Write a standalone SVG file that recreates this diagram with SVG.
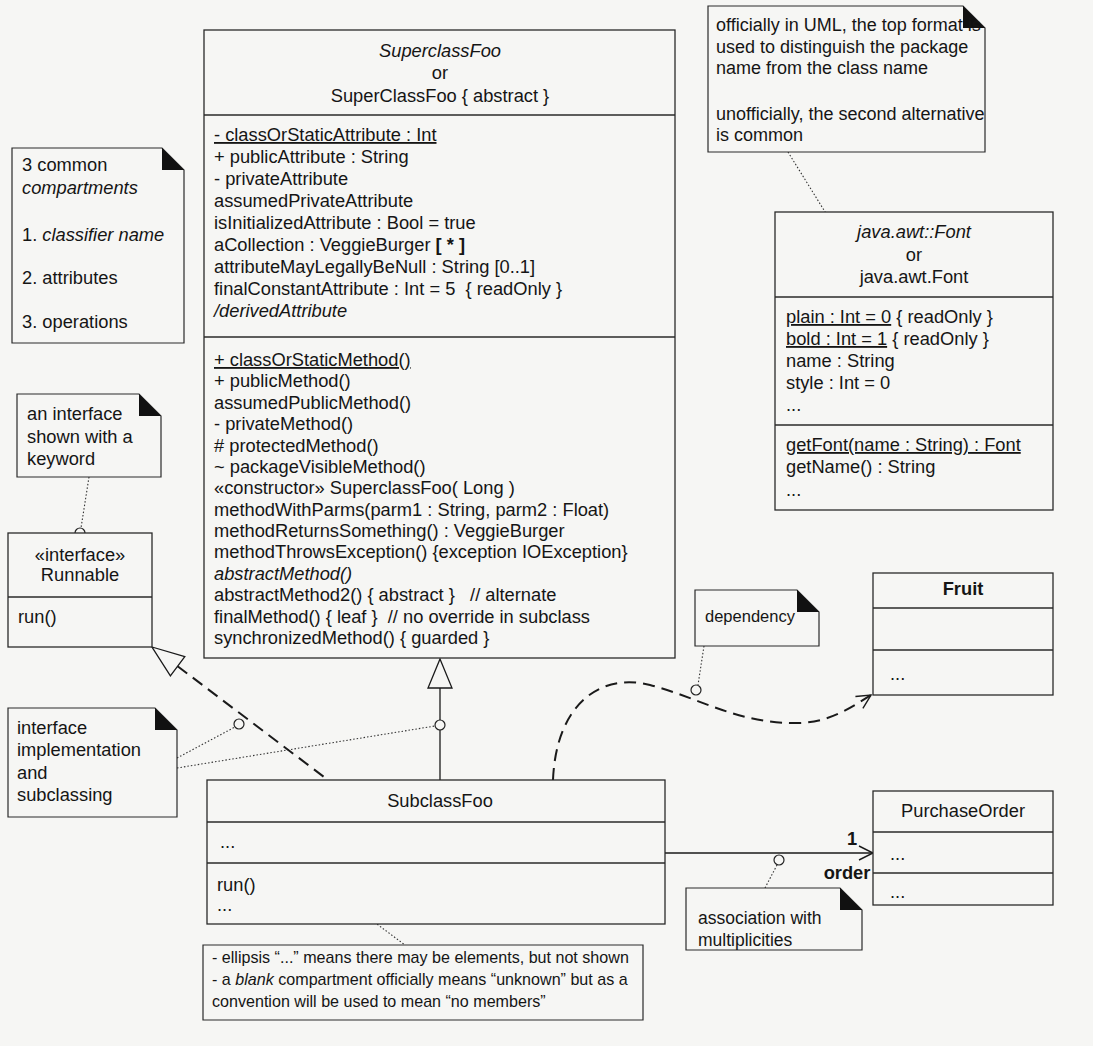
<svg xmlns="http://www.w3.org/2000/svg" width="1093" height="1046" viewBox="0 0 1093 1046">
<defs>
<style>
text{font-family:"Liberation Sans",Arial,sans-serif;font-size:18.3px;fill:#151515}
.c{text-anchor:middle}
.i{font-style:italic}
.b{font-weight:bold}
.u{text-decoration:underline}
.sm{font-size:16.1px}
.pre{white-space:pre}
.box{fill:#f6f6f4;stroke:#2a2a2a;stroke-width:1.3}
.div{stroke:#2a2a2a;stroke-width:1.3}
.note{fill:#f6f6f4;stroke:#2a2a2a;stroke-width:1.2}
.ear{fill:#111}
.dot{fill:none;stroke:#333;stroke-width:1.1;stroke-dasharray:1.5 2}
.dash{fill:none;stroke:#1a1a1a;stroke-width:2;stroke-dasharray:12 7}
.solid{fill:none;stroke:#1a1a1a;stroke-width:1.3}
.hole{fill:#f6f6f4;stroke:#222;stroke-width:1.2}
.tri{fill:#f6f6f4;stroke:#1a1a1a;stroke-width:1.3}
</style>
<marker id="open" markerWidth="18" markerHeight="18" refX="16" refY="9" orient="auto" markerUnits="userSpaceOnUse">
<path d="M2,2 L16,9 L2,16" fill="none" stroke="#1a1a1a" stroke-width="1.4"/>
</marker>
</defs>
<rect width="1093" height="1046" fill="#f6f6f4"/>

<g id="connectors">
<line class="dot" x1="788" y1="152" x2="835" y2="228"/>
<line class="dot" x1="89" y1="477" x2="81" y2="528"/>
<line class="dot" x1="177" y1="758" x2="235" y2="727"/>
<line class="dot" x1="177" y1="768" x2="435" y2="726"/>
<line class="dot" x1="704" y1="646" x2="698" y2="685"/>
<line class="dot" x1="765" y1="888" x2="777" y2="865"/>
<line class="dot" x1="279" y1="851" x2="405" y2="945"/>
<line class="dash" x1="177.6" y1="666.2" x2="328" y2="780"/>
<polygon class="tri" points="152,647 184.8,656.6 170.4,675.8"/>
<line class="solid" x1="440" y1="688" x2="440" y2="780"/>
<polygon class="tri" points="440,659 452,688 428,688"/>
<path class="dash" d="M553,780 C556,705 600,672 650,685 C700,698 740,725 800,723 C830,722 852,707 871,695" marker-end="url(#open)"/>
<line class="solid" x1="665" y1="853" x2="873" y2="853" marker-end="url(#open)"/>
<circle class="hole" cx="838" cy="232" r="5"/>
<circle class="hole" cx="80" cy="533" r="5"/>
<circle class="hole" cx="239" cy="724" r="5"/>
<circle class="hole" cx="440" cy="725" r="5"/>
<circle class="hole" cx="696" cy="690" r="5"/>
<circle class="hole" cx="779" cy="860" r="5"/>
<circle class="hole" cx="275" cy="847" r="5"/>
<text x="852" y="845" class="c b">1</text>
<text x="847" y="879" class="c b">order</text>
</g>

<g id="superclassFoo">
<rect class="box" x="204" y="30" width="471" height="628"/>
<line class="div" x1="204" y1="115" x2="675" y2="115"/>
<line class="div" x1="204" y1="337" x2="675" y2="337"/>
<text x="440" y="57" class="c i">SuperclassFoo</text>
<text x="440" y="79" class="c">or</text>
<text x="440" y="102" class="c">SuperClassFoo { abstract }</text>
<text x="214" y="141" class="u">- classOrStaticAttribute : Int</text>
<text x="214" y="163">+ publicAttribute : String</text>
<text x="214" y="185">- privateAttribute</text>
<text x="214" y="207">assumedPrivateAttribute</text>
<text x="214" y="229">isInitializedAttribute : Bool = true</text>
<text x="214" y="251">aCollection : VeggieBurger <tspan class="b">[ * ]</tspan></text>
<text x="214" y="273">attributeMayLegallyBeNull : String [0..1]</text>
<text x="214" y="295" class="pre">finalConstantAttribute : Int = 5  { readOnly }</text>
<text x="214" y="317" class="i">/derivedAttribute</text>
<text x="214" y="366" class="u">+ classOrStaticMethod()</text>
<text x="214" y="387.4">+ publicMethod()</text>
<text x="214" y="408.8">assumedPublicMethod()</text>
<text x="214" y="430.1">- privateMethod()</text>
<text x="214" y="451.5"># protectedMethod()</text>
<text x="214" y="472.9">~ packageVisibleMethod()</text>
<text x="214" y="494.3">«constructor» SuperclassFoo( Long )</text>
<text x="214" y="515.7">methodWithParms(parm1 : String, parm2 : Float)</text>
<text x="214" y="537">methodReturnsSomething() : VeggieBurger</text>
<text x="214" y="558.4">methodThrowsException() {exception IOException}</text>
<text x="214" y="579.8" class="i">abstractMethod()</text>
<text x="214" y="601.2" class="pre">abstractMethod2() { abstract }   // alternate</text>
<text x="214" y="622.6" class="pre">finalMethod() { leaf }  // no override in subclass</text>
<text x="214" y="644">synchronizedMethod() { guarded }</text>
</g>

<g id="runnable">
<rect class="box" x="8" y="533" width="144" height="114"/>
<line class="div" x1="8" y1="597" x2="152" y2="597"/>
<text x="80" y="561" class="c">«interface»</text>
<text x="80" y="581" class="c">Runnable</text>
<text x="18" y="623">run()</text>
</g>

<g id="font">
<rect class="box" x="775" y="212" width="278" height="298"/>
<line class="div" x1="775" y1="297" x2="1053" y2="297"/>
<line class="div" x1="775" y1="425" x2="1053" y2="425"/>
<text x="914" y="238" class="c i">java.awt::Font</text>
<text x="914" y="261" class="c">or</text>
<text x="914" y="283" class="c">java.awt.Font</text>
<text x="786" y="323"><tspan class="u">plain : Int = 0</tspan> { readOnly }</text>
<text x="786" y="345"><tspan class="u">bold : Int = 1</tspan> { readOnly }</text>
<text x="786" y="367">name : String</text>
<text x="786" y="389">style : Int = 0</text>
<text x="786" y="411">...</text>
<text x="786" y="451" class="u">getFont(name : String) : Font</text>
<text x="786" y="473">getName() : String</text>
<text x="786" y="496">...</text>
</g>

<g id="fruit">
<rect class="box" x="873" y="573" width="180" height="122"/>
<line class="div" x1="873" y1="608" x2="1053" y2="608"/>
<line class="div" x1="873" y1="650" x2="1053" y2="650"/>
<text x="963" y="595" class="c b">Fruit</text>
<text x="890" y="680">...</text>
</g>

<g id="subclassFoo">
<rect class="box" x="207" y="780" width="458" height="144"/>
<line class="div" x1="207" y1="822" x2="665" y2="822"/>
<line class="div" x1="207" y1="863" x2="665" y2="863"/>
<text x="440" y="807" class="c">SubclassFoo</text>
<text x="220" y="848">...</text>
<text x="217" y="891">run()</text>
<text x="217" y="911">...</text>
</g>

<g id="purchaseOrder">
<rect class="box" x="873" y="791" width="180" height="114"/>
<line class="div" x1="873" y1="832" x2="1053" y2="832"/>
<line class="div" x1="873" y1="873" x2="1053" y2="873"/>
<text x="963" y="817" class="c">PurchaseOrder</text>
<text x="890" y="860">...</text>
<text x="890" y="898">...</text>
</g>

<g id="note-package">
<path class="note" d="M708,6 H963 L985,28 V152 H708 Z"/>
<path class="ear" d="M963,6 L985,28 H963 Z"/>
<text x="716" y="31" style="font-size:18px">officially in UML, the top format is</text>
<text x="716" y="53" style="font-size:18px">used to distinguish the package</text>
<text x="716" y="74" style="font-size:18px">name from the class name</text>
<text x="716" y="120" style="font-size:18px">unofficially, the second alternative</text>
<text x="716" y="141" style="font-size:18px">is common</text>
</g>

<g id="note-compartments">
<path class="note" d="M12,148 H162 L184,170 V343 H12 Z"/>
<path class="ear" d="M162,148 L184,170 H162 Z"/>
<text x="22" y="171">3 common</text>
<text x="22" y="194" class="i">compartments</text>
<text x="22" y="241">1. <tspan class="i">classifier name</tspan></text>
<text x="22" y="284">2. attributes</text>
<text x="22" y="328">3. operations</text>
</g>

<g id="note-interface">
<path class="note" d="M17,394 H139 L161,416 V477 H17 Z"/>
<path class="ear" d="M139,394 L161,416 H139 Z"/>
<text x="27" y="420">an interface</text>
<text x="27" y="443">shown with a</text>
<text x="27" y="465">keyword</text>
</g>

<g id="note-implementation">
<path class="note" d="M8,708 H155 L177,730 V817 H8 Z"/>
<path class="ear" d="M155,708 L177,730 H155 Z"/>
<text x="17" y="734">interface</text>
<text x="17" y="756">implementation</text>
<text x="17" y="779">and</text>
<text x="17" y="801">subclassing</text>
</g>

<g id="note-dependency">
<path class="note" d="M695,590 H797 L819,612 V646 H695 Z"/>
<path class="ear" d="M797,590 L819,612 H797 Z"/>
<text x="705" y="622" style="font-size:16.5px">dependency</text>
</g>

<g id="note-association">
<path class="note" d="M686,888 H840 L862,910 V950 H686 Z"/>
<path class="ear" d="M840,888 L862,910 H840 Z"/>
<text x="698" y="924" style="font-size:17.5px">association with</text>
<text x="698" y="946" style="font-size:17.5px">multiplicities</text>
</g>

<g id="note-ellipsis">
<path class="note" d="M203,945 H643 V1020 H203 Z"/>
<text x="212" y="963" class="sm">- ellipsis “...” means there may be elements, but not shown</text>
<text x="212" y="985" class="sm">- a <tspan class="i">blank</tspan> compartment officially means “unknown” but as a</text>
<text x="212" y="1007" class="sm">convention will be used to mean “no members”</text>
</g>
</svg>
